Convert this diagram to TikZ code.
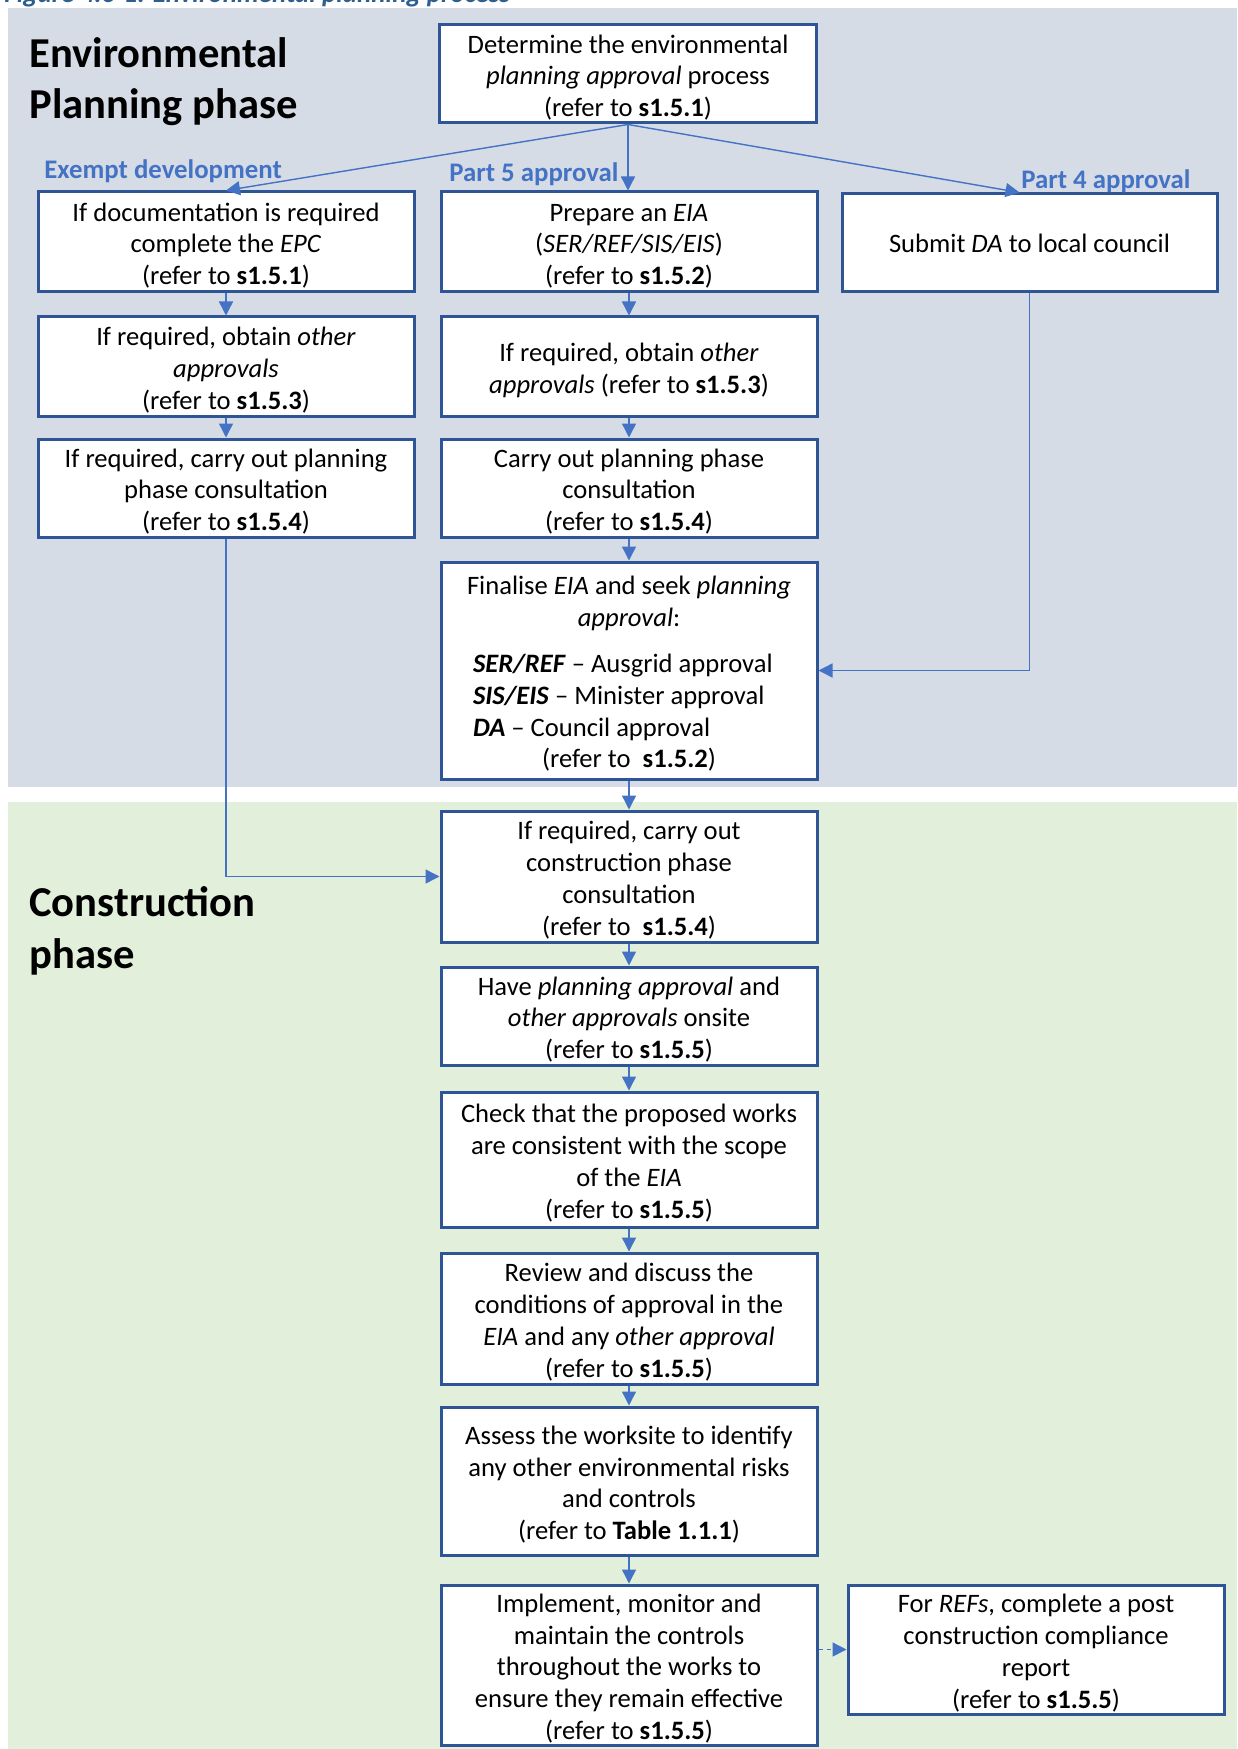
\documentclass[tikz,border=0pt]{standalone}
\usepackage{fontspec}
\setmainfont{Carlito}
\usetikzlibrary{arrows.meta}
\definecolor{planbg}{HTML}{D6DCE5}
\definecolor{buildbg}{HTML}{E2EFDA}
\definecolor{boxline}{HTML}{2F5597}
\definecolor{flow}{HTML}{4472C4}
\definecolor{figtitle}{HTML}{2E5E8E}
% taller first line, so the text block sits a little lower in its box
\newcommand{\firstline}{\rule{0pt}{12.8pt}}

\begin{document}
\begin{tikzpicture}[x=0.5pt,y=-0.5pt,
  stage/.style={draw=boxline, line width=1.5pt, fill=white, inner sep=0pt,
    align=center, minimum width=188pt, font=\fontsize{13.3}{15.9}\selectfont},
  flowarrow/.style={draw=flow, line width=0.7pt, -{Triangle[length=7pt,width=7pt]}},
  branch/.style={font=\fontsize{13.4}{15}\selectfont\bfseries, text=flow, inner sep=0pt},
  phase/.style={font=\fontsize{21.3}{25.7}\selectfont\bfseries, align=left, inner sep=0pt}
]
\useasboundingbox (0,0) rectangle (1237,1749);
\clip (0,0) rectangle (1237,1749);

% phase backgrounds
\fill[planbg] (8,8) rectangle (1237,787);
\fill[buildbg] (8,802) rectangle (1237,1749);

% figure caption (runs off the top edge)
\node[anchor=base west, inner sep=0pt, text=figtitle,
  font=\fontsize{13.5}{16}\selectfont\bfseries\itshape] (caption) at (4,3)
  {Figure 4.6-1: Environmental planning process};

% phase headings (anchored on the baseline of their last line)
\node[phase, anchor=base west] (planhead) at (29,119) {Environmental\\Planning phase};
\node[phase, anchor=base west] (buildhead) at (29,968) {Construction\\phase};

% planning phase
\node[stage, minimum width=188.5pt, minimum height=49pt] (top) at (628,74)
  {\firstline Determine the environmental\\ \textit{planning approval} process\\ (refer to \textbf{s1.5.1})};

\node[stage, minimum height=50pt] (l1) at (226,242)
  {\firstline If documentation is required\\ complete the \textit{EPC}\\ (refer to \textbf{s1.5.1})};
\node[stage, minimum height=49.5pt] (l2) at (226,366.5)
  {\firstline If required, obtain \textit{other}\\ \textit{approvals}\\ (refer to \textbf{s1.5.3})};
\node[stage, minimum height=49pt] (l3) at (226,488)
  {\firstline If required, carry out planning\\ phase consultation\\ (refer to \textbf{s1.5.4})};

\node[stage, minimum height=50pt] (m1) at (629,242)
  {\firstline Prepare an \textit{EIA}\\ (\textit{SER/REF/SIS/EIS})\\ (refer to \textbf{s1.5.2})};
\node[stage, minimum height=49.5pt] (m2) at (629,366.5)
  {\firstline If required, obtain \textit{other}\\ \textit{approvals} (refer to \textbf{s1.5.3})};
\node[stage, minimum height=49pt] (m3) at (629,488)
  {\firstline Carry out planning phase\\ consultation\\ (refer to \textbf{s1.5.4})};
\node[stage, minimum height=108.5pt] (m4) at (629,670.5)
  {\firstline Finalise \textit{EIA} and seek \textit{planning}\\
   \textit{approval}:\\[7pt]
   \makebox[186pt][l]{\hspace{15pt}\textbf{\textit{SER/REF}} – Ausgrid approval}\\
   \makebox[186pt][l]{\hspace{15pt}\textbf{\textit{SIS/EIS}} – Minister approval}\\
   \makebox[186pt][l]{\hspace{15pt}\textbf{\textit{DA}} – Council approval}\\
   (refer to\ \ \textbf{s1.5.2})};

\node[stage, minimum width=187.5pt, minimum height=49pt] (r1) at (1029.5,243)
  {Submit \textit{DA} to local council};

% construction phase
\node[stage, minimum height=65.5pt] (m5) at (629,876.5)
  {\firstline If required, carry out\\ construction phase\\ consultation\\ (refer to\ \ \textbf{s1.5.4})};
\node[stage, minimum height=49pt] (m6) at (629,1016)
  {\firstline Have \textit{planning approval} and\\ \textit{other approvals} onsite\\ (refer to \textbf{s1.5.5})};
\node[stage, minimum height=67.5pt] (m7) at (629,1159.5)
  {\firstline Check that the proposed works\\ are consistent with the scope\\ of the \textit{EIA}\\ (refer to \textbf{s1.5.5})};
\node[stage, minimum height=65.5pt] (m8) at (629,1318.5)
  {\firstline Review and discuss the\\ conditions of approval in the\\ \textit{EIA} and any \textit{other approval}\\ (refer to \textbf{s1.5.5})};
\node[stage, minimum height=74pt] (m9) at (629,1481)
  {\firstline Assess the worksite to identify\\ any other environmental risks\\ and controls\\ (refer to \textbf{Table 1.1.1})};
\node[stage, minimum height=80pt] (m10) at (629,1665)
  {\firstline Implement, monitor and\\ maintain the controls\\ throughout the works to\\ ensure they remain effective\\ (refer to \textbf{s1.5.5})};
\node[stage, minimum height=64.5pt] (r2) at (1036,1649.5)
  {\firstline For \textit{REFs}, complete a post\\ construction compliance\\ report\\ (refer to \textbf{s1.5.5})};

% branch labels
\node[branch, anchor=base west] (exempt) at (44,179) {Exempt development};
\node[branch, anchor=base west] (part5) at (449,182) {Part 5 approval};
\node[branch, anchor=base west] (part4) at (1021,189) {Part 4 approval};

% connectors
\draw[flowarrow] (top.south) -- (l1.north);
\draw[flowarrow] (top.south) -- (top.south |- m1.north);
\draw[flowarrow] (top.south) -- ([xshift=-5pt]r1.north);

\draw[flowarrow] (l1) -- (l2);
\draw[flowarrow] (l2) -- (l3);
\draw[flowarrow] (l3.south) |- (m5.west);

\draw[flowarrow] (m1) -- (m2);
\draw[flowarrow] (m2) -- (m3);
\draw[flowarrow] (m3) -- (m4);
\draw[flowarrow] (r1.south) |- (m4.east);
\draw[flowarrow] (m4) -- (m5);
\draw[flowarrow] (m5) -- (m6);
\draw[flowarrow] (m6) -- (m7);
\draw[flowarrow] (m7) -- (m8);
\draw[flowarrow] (m8) -- (m9);
\draw[flowarrow] (m9) -- (m10);
\draw[flowarrow, dash pattern=on 2pt off 2pt] (m10.east |- r2.west) -- (r2.west);
\end{tikzpicture}
\end{document}
